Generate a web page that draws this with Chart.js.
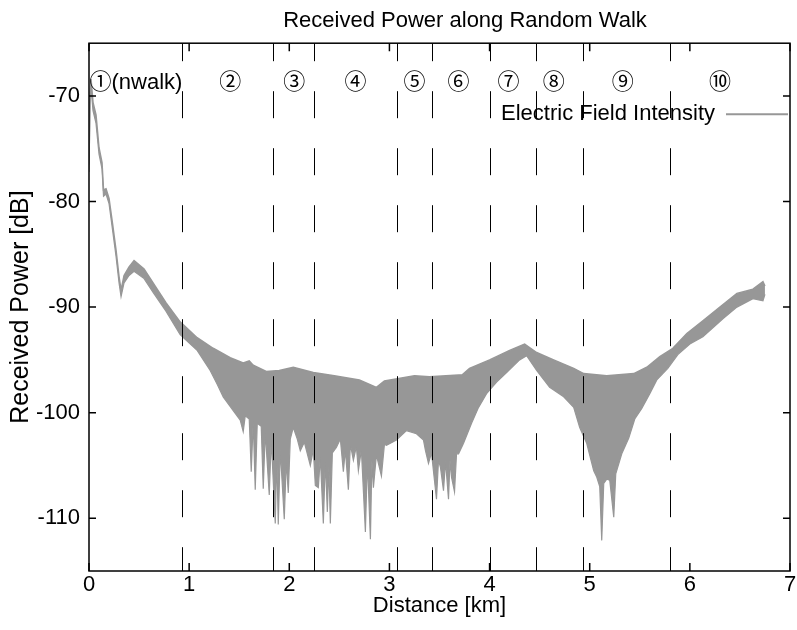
<!DOCTYPE html>
<html>
<head>
<meta charset="utf-8">
<script src="https://cdn.jsdelivr.net/npm/chart.js@4/dist/chart.umd.min.js"></script>
<style>
html,body{margin:0;padding:0;background:#fff;}
#c{display:block;}
</style>
</head>
<body>
<canvas id="c" width="797" height="630"></canvas>
<script>
// ---------- data ----------
const chartTitle = 'Received Power along Random Walk';
const xAxisTitle = 'Distance [km]';
const yAxisTitle = 'Received Power [dB]';
const seriesName = 'Electric Field Intensity';

const xTicks = [0, 1, 2, 3, 4, 5, 6, 7];
const yTicks = [-110, -100, -90, -80, -70];

// upper envelope of the fading signal
const upperKm = [0.000,0.010,0.020,0.040,0.070,0.100,0.130,0.145,0.170,0.200,0.235,0.270,0.300,0.320,0.350,0.400,0.450,0.550,0.640,0.770,0.910,1.080,1.240,1.410,1.540,1.600,1.640,1.770,1.900,2.040,2.240,2.450,2.700,2.870,2.950,3.250,3.400,3.730,3.800,4.000,4.200,4.350,4.470,4.640,4.840,4.940,5.170,5.440,5.570,5.700,5.830,5.970,6.130,6.300,6.470,6.630,6.730,6.750];
const upperDb = [-76.5,-70.0,-68.4,-70.6,-71.8,-74.9,-76.3,-78.9,-78.8,-79.7,-82.1,-84.6,-87.1,-88.4,-87.0,-86.2,-85.6,-86.4,-87.7,-89.6,-91.4,-92.9,-93.9,-94.8,-95.3,-95.1,-95.5,-96.1,-96.0,-95.7,-96.2,-96.5,-96.9,-97.6,-97.0,-96.5,-96.6,-96.4,-95.8,-95.0,-94.1,-93.5,-94.3,-95.0,-95.8,-96.3,-96.5,-96.3,-95.7,-94.7,-93.9,-92.5,-91.3,-90.0,-88.7,-88.3,-87.6,-88.0];

// lower envelope (including the deep fades)
const lowerKm = [0.000,0.010,0.020,0.040,0.070,0.100,0.130,0.145,0.170,0.200,0.235,0.270,0.300,0.320,0.350,0.400,0.450,0.550,0.640,0.770,0.910,1.080,1.210,1.280,1.340,1.440,1.510,1.540,1.560,1.600,1.620,1.640,1.660,1.680,1.720,1.740,1.760,1.800,1.820,1.860,1.875,1.890,1.910,1.950,1.970,1.990,2.010,2.040,2.080,2.110,2.150,2.210,2.240,2.260,2.290,2.310,2.340,2.360,2.380,2.395,2.410,2.430,2.470,2.510,2.540,2.560,2.590,2.610,2.640,2.670,2.690,2.720,2.760,2.780,2.810,2.825,2.840,2.870,2.920,2.950,2.970,3.070,3.170,3.270,3.340,3.360,3.390,3.420,3.470,3.490,3.510,3.540,3.560,3.590,3.605,3.620,3.650,3.670,3.690,3.740,3.820,3.890,3.970,4.070,4.170,4.300,4.370,4.470,4.600,4.740,4.840,4.900,4.970,5.040,5.070,5.100,5.120,5.140,5.170,5.200,5.240,5.260,5.320,5.390,5.450,5.520,5.600,5.670,5.780,5.880,6.000,6.130,6.330,6.470,6.630,6.730,6.750];
const lowerDb = [-77.2,-70.8,-69.2,-71.4,-72.6,-75.5,-76.9,-79.5,-79.3,-80.2,-82.7,-85.2,-87.7,-89.0,-87.7,-87.0,-86.6,-87.3,-88.6,-90.4,-92.6,-94.1,-96.0,-97.3,-98.5,-99.8,-100.7,-101.8,-100.3,-100.6,-105.6,-100.8,-107.3,-101.0,-101.3,-107.2,-101.8,-107.8,-102.5,-110.5,-104.0,-110.6,-103.5,-110.1,-104.5,-107.6,-102.5,-101.4,-102.5,-103.6,-102.8,-105.0,-103.5,-106.9,-107.1,-104.2,-110.5,-104.5,-109.4,-105.0,-110.5,-103.8,-103.3,-102.5,-105.6,-103.5,-107.3,-103.0,-104.5,-103.2,-105.5,-103.5,-111.3,-104.5,-112.0,-104.5,-107.1,-104.0,-106.0,-103.0,-103.1,-102.6,-101.7,-102.0,-102.6,-103.6,-104.8,-103.8,-108.2,-104.5,-105.2,-107.4,-104.6,-108.2,-104.5,-106.1,-107.5,-103.9,-103.9,-102.9,-101.0,-99.5,-98.2,-97.1,-96.2,-95.0,-94.6,-96.0,-97.6,-98.5,-99.5,-101.4,-102.9,-105.5,-106.1,-107.0,-112.1,-106.7,-106.3,-106.4,-109.9,-105.8,-103.9,-102.4,-100.6,-99.6,-98.2,-96.9,-95.8,-94.5,-93.5,-92.8,-91.1,-90.0,-89.2,-89.4,-88.8];

// walk segment boundaries and segment labels
const boundaryKm = [0.93, 1.84, 2.25, 3.08, 3.43, 4.00, 4.46, 4.93, 5.80];
const segmentNames = ['\u2460(nwalk)', '\u2461', '\u2462', '\u2463', '\u2464', '\u2465', '\u2466', '\u2467', '\u2468', '\u2469'];
const segmentKm = [0.005, 1.41, 2.05, 2.66, 3.25, 3.69, 4.19, 4.64, 5.33, 6.30];
const segmentDb = -68.8;

// ---------- styling ----------
const FONT = "'Liberation Sans', Arial, sans-serif";
const LABEL_FONT = "'Liberation Sans', 'Noto Sans CJK JP', sans-serif";
const GRAY = '#979797';
Chart.defaults.font.family = FONT;
Chart.defaults.color = '#000';

const overlay = {
  id: 'overlay',
  afterLayout(chart) {
    const t = chart.titleBlock;
    if (t) { t.left += 70; t.right += 70; }
    const lg = chart.legend, ca = chart.chartArea;
    if (lg) {
      lg.left = ca.left; lg.right = ca.right; lg.width = ca.right - ca.left;
      lg.top = ca.top; lg.bottom = ca.top + lg.height;
    }
  },
  afterDatasetsDraw(chart) {
    const {ctx, chartArea: ca, scales: {x, y}} = chart;
    ctx.save();
    ctx.beginPath();
    ctx.rect(ca.left, ca.top, ca.right - ca.left, ca.bottom - ca.top);
    ctx.clip();
    ctx.strokeStyle = '#000';
    ctx.lineWidth = 1;
    ctx.setLineDash([27, 30]);
    ctx.lineDashOffset = 9;
    boundaryKm.forEach(k => {
      const px = Math.round(x.getPixelForValue(k)) + 0.5;
      ctx.beginPath();
      ctx.moveTo(px, ca.top);
      ctx.lineTo(px, ca.bottom);
      ctx.stroke();
    });
    ctx.restore();

    ctx.save();
    ctx.fillStyle = '#000';
    ctx.font = "22px " + LABEL_FONT;
    ctx.textBaseline = 'middle';
    segmentNames.forEach((s, i) => {
      ctx.textAlign = i === 0 ? 'left' : 'center';
      ctx.fillText(s, x.getPixelForValue(segmentKm[i]), y.getPixelForValue(segmentDb));
    });
    ctx.restore();
  },
  afterDraw(chart) {
    const {ctx, chartArea: ca, scales: {x, y}} = chart;
    ctx.save();
    ctx.strokeStyle = '#000';
    ctx.lineWidth = 1.5;
    ctx.strokeRect(ca.left, ca.top, ca.right - ca.left, ca.bottom - ca.top);
    ctx.beginPath();
    xTicks.forEach(v => {
      const px = x.getPixelForValue(v);
      ctx.moveTo(px, ca.bottom); ctx.lineTo(px, ca.bottom - 8);
      ctx.moveTo(px, ca.top); ctx.lineTo(px, ca.top + 8);
    });
    yTicks.forEach(v => {
      const py = y.getPixelForValue(v);
      ctx.moveTo(ca.left, py); ctx.lineTo(ca.left + 7, py);
      ctx.moveTo(ca.right, py); ctx.lineTo(ca.right - 7, py);
    });
    ctx.stroke();
    ctx.restore();
  }
};

new Chart(document.getElementById('c'), {
  type: 'line',
  data: {
    datasets: [
      {
        label: seriesName,
        data: upperKm.map((k, i) => ({x: k, y: upperDb[i]})),
        borderColor: GRAY, backgroundColor: GRAY, borderWidth: 1.5,
        pointRadius: 0, tension: 0, fill: '+1'
      },
      {
        label: seriesName + ' (lower)',
        data: lowerKm.map((k, i) => ({x: k, y: lowerDb[i]})),
        borderColor: GRAY, backgroundColor: GRAY, borderWidth: 1.2,
        pointRadius: 0, tension: 0, fill: false
      }
    ]
  },
  options: {
    responsive: false,
    animation: false,
    devicePixelRatio: 1,
    layout: {padding: {left: 0, right: 7, top: 0, bottom: 0}},
    plugins: {
      title: {
        display: true, text: chartTitle, color: '#000',
        font: {family: FONT, size: 22, weight: 'normal'},
        padding: {top: 8, bottom: 8.8}
      },
      legend: {
        display: true, position: 'chartArea', align: 'start', rtl: true,
        title: {display: true, text: ' ', font: {size: 10}, padding: {top: 23, bottom: 23}},
        labels: {
          color: '#000', font: {family: FONT, size: 22},
          boxWidth: 62, boxHeight: 2, padding: 2,
          generateLabels: () => [{
            text: seriesName, fillStyle: GRAY, strokeStyle: GRAY, lineWidth: 0,
            hidden: false, datasetIndex: 0, fontColor: '#000'
          }]
        }
      },
      tooltip: {enabled: false}
    },
    scales: {
      x: {
        type: 'linear', min: 0, max: 7,
        afterBuildTicks: s => { s.ticks = xTicks.map(v => ({value: v})); },
        afterFit: s => { s.height = 59; s.paddingLeft = 0; s.paddingRight = 0; },
        grid: {display: false, drawTicks: false},
        border: {display: false},
        ticks: {color: '#000', font: {family: FONT, size: 22}, padding: 1, maxRotation: 0, autoSkip: false},
        title: {display: true, text: xAxisTitle, color: '#000', font: {family: FONT, size: 22}, padding: {top: 0, bottom: 11}}
      },
      y: {
        type: 'linear', min: -115, max: -65,
        afterBuildTicks: s => { s.ticks = yTicks.map(v => ({value: v})); },
        afterFit: s => { s.width = 89; s.paddingTop = 0; s.paddingBottom = 0; },
        grid: {display: false, drawTicks: false},
        border: {display: false},
        ticks: {color: '#000', font: {family: FONT, size: 22}, padding: 9, autoSkip: false},
        title: {display: true, text: yAxisTitle, color: '#000', font: {family: FONT, size: 25}, padding: {top: 6, bottom: 0}}
      }
    }
  },
  plugins: [overlay]
});
</script>
</body>
</html>
